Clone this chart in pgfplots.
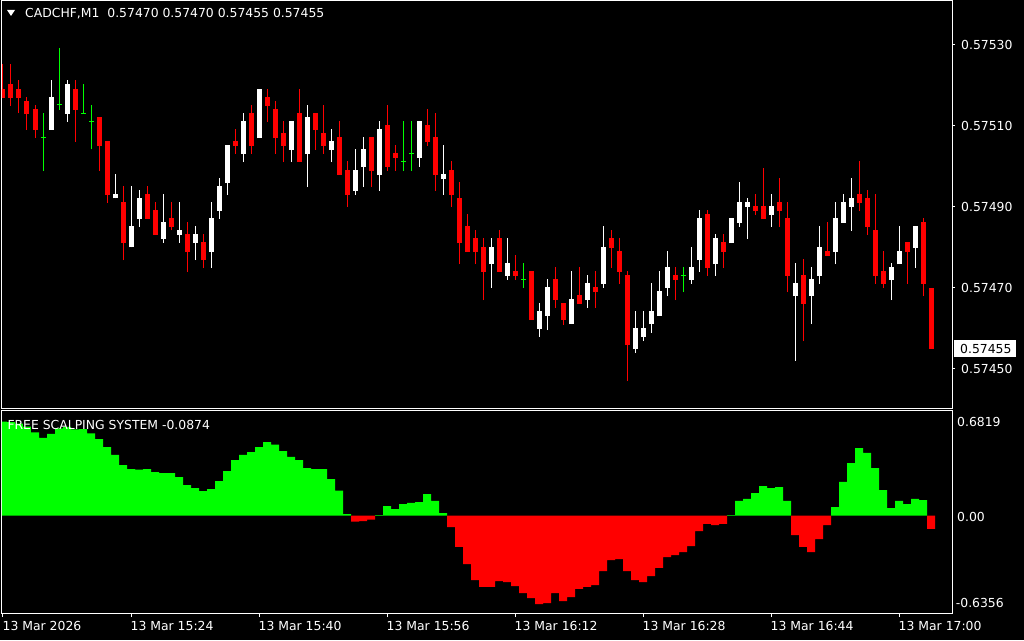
\documentclass[border=0pt]{standalone}
\usepackage{pgfplots}
\pgfplotsset{compat=1.18}
\usepackage{pgfplotstable}
\usepackage{fontspec}
\setmainfont{DejaVu Sans}
\definecolor{mtred}{RGB}{255,0,0}
\definecolor{mtgreen}{RGB}{0,255,0}
\newcommand{\mtfont}{\fontsize{12.4}{14}\selectfont}

% CADCHF M1 candles, x = minute index from 15:08
% bearish (red) candles
\pgfplotstableread{
x o h l c
0 0.575191 0.575253 0.575169 0.575170
1 0.575204 0.575253 0.575150 0.575170
2 0.575191 0.575214 0.575132 0.575170
3 0.575162 0.575172 0.575091 0.575130
4 0.575142 0.575152 0.575071 0.575091
9 0.575191 0.575214 0.575061 0.575140
12 0.575122 0.575122 0.574990 0.575051
13 0.575063 0.575063 0.574911 0.574930
15 0.574912 0.574952 0.574769 0.574812
18 0.574932 0.574952 0.574871 0.574871
19 0.574893 0.574912 0.574832 0.574832
21 0.574873 0.574912 0.574842 0.574851
23 0.574833 0.574863 0.574740 0.574790
25 0.574814 0.574833 0.574749 0.574769
29 0.575063 0.575093 0.575031 0.575051
31 0.575132 0.575152 0.575031 0.575051
33 0.575172 0.575191 0.575110 0.575149
34 0.575142 0.575162 0.575031 0.575070
35 0.575083 0.575112 0.575011 0.575051
37 0.575132 0.575191 0.575011 0.575011
39 0.575132 0.575132 0.575041 0.575090
40 0.575083 0.575152 0.575031 0.575051
42 0.575073 0.575112 0.574979 0.574979
43 0.574991 0.575014 0.574900 0.574930
46 0.575073 0.575073 0.574949 0.574989
48 0.575102 0.575152 0.574989 0.574999
49 0.575033 0.575053 0.574989 0.575021
53 0.575102 0.575142 0.575051 0.575060
54 0.575073 0.575132 0.574940 0.574979
56 0.574991 0.575014 0.574900 0.574930
57 0.574922 0.574962 0.574759 0.574811
58 0.574853 0.574883 0.574789 0.574789
59 0.574823 0.574843 0.574759 0.574789
60 0.574801 0.574823 0.574670 0.574740
62 0.574823 0.574843 0.574740 0.574740
64 0.574742 0.574782 0.574720 0.574730
66 0.574742 0.574742 0.574621 0.574621
69 0.574722 0.574752 0.574651 0.574670
70 0.574663 0.574663 0.574609 0.574621
72 0.574683 0.574752 0.574661 0.574661
74 0.574702 0.574742 0.574651 0.574690
76 0.574823 0.574843 0.574749 0.574799
77 0.574791 0.574823 0.574710 0.574740
78 0.574732 0.574742 0.574470 0.574559
84 0.574732 0.574752 0.574670 0.574720
88 0.574883 0.574893 0.574730 0.574749
90 0.574814 0.574833 0.574749 0.574789
94 0.574903 0.574932 0.574880 0.574890
95 0.574903 0.574996 0.574870 0.574870
97 0.574912 0.574972 0.574851 0.574890
98 0.574873 0.574912 0.574690 0.574730
100 0.574732 0.574772 0.574569 0.574661
103 0.574791 0.574863 0.574779 0.574779
107 0.574932 0.575014 0.574890 0.574910
108 0.574922 0.574942 0.574831 0.574851
109 0.574843 0.574932 0.574710 0.574730
110 0.574742 0.574791 0.574700 0.574710
113 0.574814 0.574814 0.574710 0.574789
115 0.574863 0.574873 0.574680 0.574710
116 0.574700 0.574700 0.574550 0.574550
}\bear

% bullish (white) candles
\pgfplotstableread{
x o h l c
6 0.575091 0.575214 0.575091 0.575172
8 0.575130 0.575214 0.575111 0.575204
14 0.574921 0.574981 0.574921 0.574932
16 0.574800 0.574952 0.574800 0.574853
17 0.574871 0.574942 0.574851 0.574922
20 0.574822 0.574932 0.574812 0.574863
22 0.574832 0.574912 0.574812 0.574843
24 0.574812 0.574853 0.574769 0.574833
26 0.574789 0.574912 0.574749 0.574873
27 0.574891 0.574972 0.574871 0.574952
28 0.574959 0.575053 0.574930 0.575053
30 0.575031 0.575132 0.575011 0.575112
32 0.575070 0.575191 0.575070 0.575191
36 0.575041 0.575112 0.575011 0.575112
38 0.575031 0.575152 0.574949 0.575122
41 0.575041 0.575093 0.575011 0.575063
44 0.574940 0.575043 0.574930 0.574991
45 0.574999 0.575073 0.574949 0.575043
47 0.574979 0.575112 0.574940 0.575093
52 0.575021 0.575112 0.574999 0.575112
55 0.574969 0.575053 0.574930 0.574981
61 0.574759 0.574823 0.574700 0.574801
63 0.574730 0.574823 0.574720 0.574762
67 0.574599 0.574663 0.574579 0.574643
68 0.574631 0.574722 0.574596 0.574702
71 0.574611 0.574742 0.574611 0.574673
73 0.574670 0.574732 0.574651 0.574712
75 0.574710 0.574853 0.574700 0.574801
79 0.574549 0.574643 0.574540 0.574601
80 0.574579 0.574643 0.574569 0.574601
81 0.574611 0.574712 0.574589 0.574643
82 0.574631 0.574742 0.574631 0.574693
83 0.574700 0.574791 0.574680 0.574752
86 0.574720 0.574801 0.574710 0.574752
87 0.574769 0.574893 0.574740 0.574873
89 0.574759 0.574833 0.574730 0.574823
91 0.574811 0.574873 0.574811 0.574873
92 0.574861 0.574962 0.574851 0.574912
93 0.574900 0.574922 0.574821 0.574912
96 0.574880 0.574932 0.574851 0.574903
99 0.574680 0.574762 0.574520 0.574712
101 0.574680 0.574752 0.574611 0.574722
102 0.574730 0.574853 0.574710 0.574801
104 0.574789 0.574912 0.574759 0.574873
105 0.574861 0.574932 0.574861 0.574912
106 0.574900 0.574972 0.574841 0.574922
111 0.574720 0.574762 0.574670 0.574752
112 0.574759 0.574853 0.574759 0.574791
114 0.574799 0.574853 0.574749 0.574853
}\bull

% doji candles (open = close), drawn green
\pgfplotstableread{
x o h l
5 0.575072 0.575132 0.574990
7 0.575152 0.575293 0.575140
10 0.575132 0.575204 0.575130
11 0.575112 0.575152 0.575042
50 0.575013 0.575112 0.574989
51 0.575033 0.575112 0.574989
65 0.574722 0.574762 0.574700
85 0.574732 0.574752 0.574690
}\doji

% FREE SCALPING SYSTEM histogram
\pgfplotstableread{
x v
0 0.612
1 0.610
2 0.600
3 0.580
4 0.543
5 0.506
6 0.532
7 0.569
8 0.579
9 0.562
10 0.564
11 0.536
12 0.499
13 0.447
14 0.395
15 0.329
16 0.303
17 0.299
18 0.303
19 0.284
20 0.277
21 0.277
22 0.251
23 0.199
24 0.179
25 0.160
26 0.173
27 0.225
28 0.290
29 0.362
30 0.395
31 0.414
32 0.447
33 0.479
34 0.462
35 0.421
36 0.382
37 0.362
38 0.310
39 0.303
40 0.303
41 0.238
42 0.162
43 0.010
44 -0.040
45 -0.036
46 -0.027
47 0.003
48 0.062
49 0.042
50 0.075
51 0.082
52 0.088
53 0.140
54 0.095
55 0.016
56 -0.075
57 -0.205
58 -0.316
59 -0.421
60 -0.466
61 -0.466
62 -0.427
63 -0.434
64 -0.460
65 -0.506
66 -0.538
67 -0.577
68 -0.571
69 -0.506
70 -0.558
71 -0.532
72 -0.479
73 -0.466
74 -0.453
75 -0.362
76 -0.290
77 -0.284
78 -0.362
79 -0.421
80 -0.434
81 -0.395
82 -0.342
83 -0.271
84 -0.258
85 -0.238
86 -0.199
87 -0.101
88 -0.055
89 -0.062
90 -0.055
91 0.003
92 0.095
93 0.108
94 0.147
95 0.192
96 0.179
97 0.186
98 0.095
99 -0.127
100 -0.205
101 -0.238
102 -0.153
103 -0.062
104 0.055
105 0.219
106 0.342
107 0.440
108 0.408
109 0.310
110 0.166
111 0.049
112 0.095
113 0.075
114 0.108
115 0.101
116 -0.0874
}\hist

% one error bar per candle, drawn upward from its lower end
\pgfplotsset{
  wick/.style={draw=none, mark=none, error bars/.cd, y dir=plus, y explicit,
    error mark=none, error bar style={draw=#1, line width=1pt}},
  body/.style={draw=none, mark=none, error bars/.cd, y dir=plus, y explicit,
    error mark=none, error bar style={draw=#1, line width=5pt}},
  mtpanel/.style={scale only axis, anchor=north west, width=950pt,
    xmin=-0.125, xmax=118.625,
    axis line style={white, line width=1pt},
    tick style={white, line width=1pt}, tick align=outside, major tick length=3pt,
    ticklabel style={white, font=\mtfont, inner sep=0pt},
    /pgf/number format/assume math mode=true},
}

\begin{document}
\begin{tikzpicture}
\useasboundingbox (0pt,0pt) rectangle (1024pt,640pt);
\fill[black] (0pt,0pt) rectangle (1024pt,640pt);

% price panel
\begin{axis}[mtpanel, at={(2pt,639pt)}, height=407pt,
  ymin=0.5744037, ymax=0.5754086,
  xtick=\empty,
  ytick={0.5745,0.5747,0.5749,0.5751,0.5753},
  ytick pos=right, yticklabel pos=right, scaled y ticks=false,
  yticklabel style={anchor=west, xshift=6pt,
    /pgf/number format/fixed, /pgf/number format/precision=5,
    /pgf/number format/fixed zerofill},
]
\addplot[wick=mtred] table[x=x, y=l, y error plus expr={\thisrow{h}-\thisrow{l}}]{\bear};
\addplot[body=mtred] table[x=x, y=c, y error plus expr={\thisrow{o}-\thisrow{c}}]{\bear};
\addplot[wick=white] table[x=x, y=l, y error plus expr={\thisrow{h}-\thisrow{l}}]{\bull};
\addplot[body=white] table[x=x, y=o, y error plus expr={\thisrow{c}-\thisrow{o}}]{\bull};
\addplot[wick=mtgreen] table[x=x, y=l, y error plus expr={\thisrow{h}-\thisrow{l}}]{\doji};
\addplot[only marks, mark=-, mark size=2.5pt, mtgreen, line width=1pt] table[x=x, y=o]{\doji};
\end{axis}

% indicator panel
\begin{axis}[mtpanel, at={(2pt,229pt)}, height=202pt,
  ymin=-0.6356, ymax=0.6819,
  ytick=\empty,
  xtick={0,16,...,112},
  xticklabels={13 Mar 2026, 13 Mar 15:24, 13 Mar 15:40, 13 Mar 15:56,
    13 Mar 16:12, 13 Mar 16:28, 13 Mar 16:44, 13 Mar 17:00},
  xtick pos=bottom, major tick length=4pt,
  xticklabel style={anchor=north west, xshift=-0.5pt, yshift=-4pt},
]
\addplot[ybar, bar width=1, bar shift=0pt, fill=mtgreen, draw=none,
  restrict y to domain=0:2] table[x=x, y=v]{\hist};
\addplot[ybar, bar width=1, bar shift=0pt, fill=mtred, draw=none,
  restrict y to domain=-2:0] table[x=x, y=v]{\hist};
\end{axis}

% header and labels
\fill[white] (7pt,630pt) -- (15pt,630pt) -- (11pt,624pt) -- cycle;
\node[anchor=base west, inner sep=0pt, white, font=\mtfont] at (25pt,622pt)
  {CADCHF,M1\ \ 0.57470 0.57470 0.57455 0.57455};
\node[anchor=base west, inner sep=0pt, white, font=\mtfont] at (7.3pt,211pt)
  {FREE SCALPING SYSTEM -0.0874};
\node[anchor=base west, inner sep=0pt, white, font=\mtfont] at (957pt,214pt) {0.6819};
\node[anchor=base west, inner sep=0pt, white, font=\mtfont] at (957pt,119pt) {0.00};
\node[anchor=base west, inner sep=0pt, white, font=\mtfont] at (955.7pt,32.3pt) {-0.6356};
\fill[white] (954pt,300pt) rectangle (1016pt,283pt);
\node[anchor=base west, inner sep=0pt, black, font=\mtfont] at (960pt,286.7pt) {0.57455};
\end{tikzpicture}
\end{document}
